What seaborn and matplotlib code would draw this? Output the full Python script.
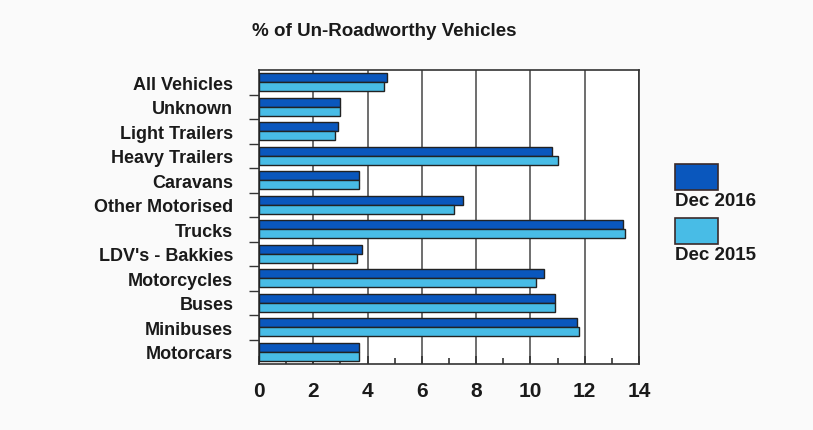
import pandas as pd
import matplotlib.pyplot as plt
import seaborn as sns
from matplotlib.patches import Rectangle
from matplotlib.ticker import MultipleLocator

# categories, top to bottom as in the chart
categories = ['All Vehicles', 'Unknown', 'Light Trailers', 'Heavy Trailers', 'Caravans',
              'Other Motorised', 'Trucks', "LDV's - Bakkies", 'Motorcycles', 'Buses',
              'Minibuses', 'Motorcars']
dec_2016 = [4.7, 3.0, 2.9, 10.8, 3.7, 7.5, 13.4, 3.8, 10.5, 10.9, 11.7, 3.7]
dec_2015 = [4.6, 3.0, 2.8, 11.0, 3.7, 7.2, 13.5, 3.6, 10.2, 10.9, 11.8, 3.7]
series = ['Dec 2016', 'Dec 2015']
colors = ['#0a57bd', '#48bce6']

df = pd.DataFrame({'category': categories * 2,
                   'value': dec_2016 + dec_2015,
                   'period': [series[0]] * len(categories) + [series[1]] * len(categories)})

sns.set_style('white')
plt.rcParams['font.family'] = ['Liberation Sans', 'DejaVu Sans']

fig = plt.figure(figsize=(8.13, 4.31), dpi=100, facecolor='#fafafa')
ax = fig.add_axes([259 / 813, 1 - 365 / 431, 380 / 813, 294 / 431])

sns.barplot(data=df, y='category', x='value', hue='period', order=categories,
            hue_order=series, palette=colors, saturation=1, orient='h', width=0.72,
            edgecolor='#222222', linewidth=1.0, legend=False, ax=ax, zorder=3)

ax.set_xlim(0, 14)
ax.set_ylim(len(categories) - 0.5, -0.5)
ax.xaxis.set_major_locator(MultipleLocator(2))
ax.xaxis.set_minor_locator(MultipleLocator(1))
ax.grid(axis='x', color='#555555', linewidth=1.2, zorder=0)
ax.set_axisbelow(True)
for s in ax.spines.values():
    s.set_color('#333333')
    s.set_linewidth(1.2)

ax.set_xlabel('')
ax.set_ylabel('')
ax.tick_params(axis='x', which='both', bottom=True, direction='in', width=1.2, color='#333333')
ax.tick_params(axis='x', which='major', length=6, pad=12, labelsize=15)
ax.tick_params(axis='x', which='minor', length=4)
ax.tick_params(axis='y', which='major', left=False, pad=15, labelsize=13)
for lab in ax.get_xticklabels() + ax.get_yticklabels():
    lab.set_fontweight('bold')
    lab.set_color('#1a1a1a')

# small separators between category bands on the y axis
ax.set_yticks([i + 0.5 for i in range(len(categories) - 1)], minor=True)
ax.tick_params(axis='y', which='minor', left=True, direction='out', length=7, width=1.0,
               color='#333333')

fig.text(384 / 813, 1 - 31 / 431, '% of Un-Roadworthy Vehicles', ha='center', va='center',
         fontsize=13.5, fontweight='bold', color='#1a1a1a')

# legend: swatch with label underneath
for i, (name, c) in enumerate(zip(series, colors)):
    top = 165 + i * 54
    fig.add_artist(Rectangle((675 / 813, 1 - (top + 26) / 431), 43 / 813, 26 / 431,
                             transform=fig.transFigure, facecolor=c, edgecolor='#3a2a2a',
                             linewidth=1.2))
    fig.text(675 / 813, 1 - (top + 37) / 431, name, ha='left', va='center',
             fontsize=13.5, fontweight='bold', color='#1a1a1a')

fig.savefig('out.png', dpi=100, facecolor=fig.get_facecolor())
